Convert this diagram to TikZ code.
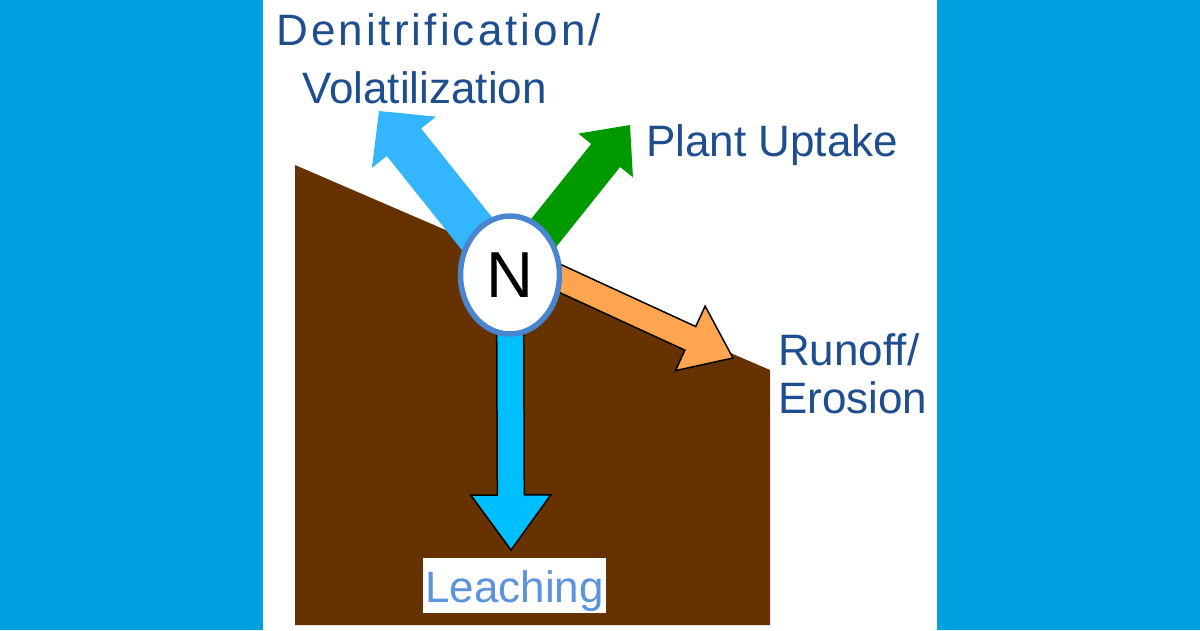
\documentclass[tikz,border=0pt]{standalone}
\usepackage{fontspec}
\setmainfont{Liberation Sans}
\newfontfamily\spacedfont[LetterSpace=7]{Liberation Sans}
\usetikzlibrary{calc,shapes.geometric,backgrounds}

\definecolor{skyback}{HTML}{00A0DF}
\definecolor{soil}{HTML}{663300}
\definecolor{vapour}{HTML}{33B5FF}
\definecolor{uptake}{HTML}{009900}
\definecolor{runoff}{HTML}{FFA54F}
\definecolor{leach}{HTML}{00BFFF}
\definecolor{ringblue}{HTML}{4A86D0}
\definecolor{labelblue}{HTML}{1F4E8F}
\definecolor{leachtext}{HTML}{5B93DC}

\tikzset{
  flowlabel/.style={inner sep=0pt, anchor=base west, text=labelblue,
    font=\fontsize{44}{44}\selectfont},
  outlined/.style={fill=#1, draw=black, line width=1.5pt, line join=miter},
  plain/.style={fill=#1}
}

\newcommand{\flowarrow}[6]{%
  \coordinate (#3 base) at ($(#3)!#6!(#2)$);
  \path[#1] ($(#2)!#4!-90:(#3)$) -- ($(#3 base)!#4!90:(#2)$)
    -- ($(#3 base)!#5!90:(#2)$) -- (#3)
    -- ($(#3 base)!#5!-90:(#2)$) -- ($(#3 base)!#4!-90:(#2)$)
    -- ($(#2)!#4!90:(#3)$) -- cycle;}

\begin{document}
\begin{tikzpicture}[x=1pt, y=-1pt]
  \useasboundingbox (0,0) rectangle (1200,630);

  \node[ellipse, draw=ringblue, line width=5.5pt, fill=white, inner sep=0pt,
    minimum width=99pt, minimum height=118pt,
    font=\fontsize{65}{65}\selectfont] (N) at (510,275) {N};

  \coordinate (vapour tip) at (379,111);
  \coordinate (uptake tip) at (630,125);
  \coordinate (runoff start) at (520,260);
  \coordinate (runoff tip) at (733,358);
  \coordinate (leach tip) at (511,550);

  \begin{scope}[on background layer]
    \fill[skyback] (0,0) rectangle (1200,630);
    \fill[white] (263,0) rectangle (937,630);
    \fill[soil] (295,165) -- (770,370) -- (770,625) -- (295,625) -- cycle;
    \flowarrow{plain=vapour}{N.center}{vapour tip}{22pt}{41pt}{40pt}
    \flowarrow{plain=uptake}{N.center}{uptake tip}{18.5pt}{35pt}{39pt}
    \flowarrow{outlined=runoff}{runoff start}{runoff tip}{13pt}{35.5pt}{47pt}
    \flowarrow{outlined=leach}{N.center}{leach tip}{13.5pt}{40pt}{55pt}
  \end{scope}

  \node[flowlabel, font=\spacedfont\fontsize{44}{44}\selectfont] (denit) at (276,45) {Denitrification/};
  \node[flowlabel] (volat) at (302,103) {Volatilization};
  \node[flowlabel] (plant) at (646,156) {Plant Uptake};
  \node[flowlabel] (runoffl) at (778,365) {Runoff/};
  \node[flowlabel] (erosion) at (778,413) {Erosion};
  \node[flowlabel, text=leachtext, fill=white, inner xsep=2pt,
    text height=44pt, text depth=11pt] (leachl) at (423,602) {Leaching};
\end{tikzpicture}
\end{document}
